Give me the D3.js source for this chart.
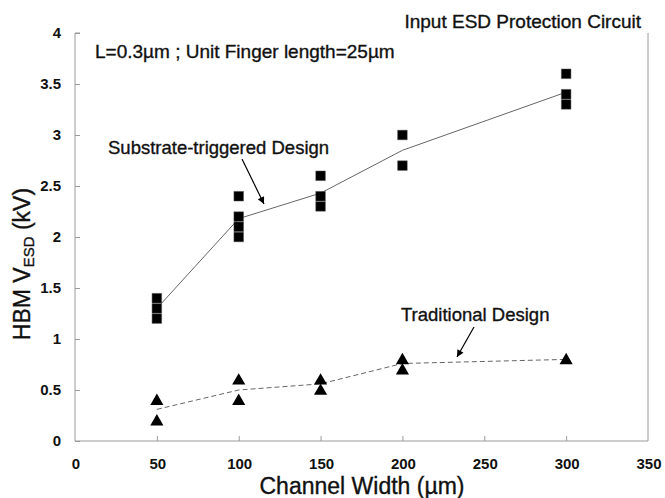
<!DOCTYPE html>
<html><head><meta charset="utf-8">
<script src="https://cdn.jsdelivr.net/npm/d3@7"></script>
<style>body{margin:0;background:#fff}svg{display:block}text{font-family:"Liberation Sans",Arial,sans-serif}</style>
</head><body>
<svg id="c" width="665" height="498"></svg>
<script>
const xTicks = [0, 50, 100, 150, 200, 250, 300, 350];
const yTicks = [0, 0.5, 1, 1.5, 2, 2.5, 3, 3.5, 4];
const yTickLabels = ["0", "0.5", "1", "1.5", "2", "2.5", "3", "3.5", "4"];

const widths = [50, 100, 150, 200, 300];
// Substrate-triggered design: measured points (x, kV)
const substrateX = [50, 50, 50, 100, 100, 100, 100, 150, 150, 150, 200, 200, 300, 300, 300];
const substrateY = [1.2, 1.3, 1.4, 2.0, 2.1, 2.2, 2.4, 2.3, 2.4, 2.6, 2.7, 3.0, 3.3, 3.4, 3.6];
const substrateLine = [1.3, 2.18, 2.43, 2.85, 3.42];
// Traditional design
const traditionalX = [50, 50, 100, 100, 150, 150, 200, 200, 300];
const traditionalY = [0.2, 0.4, 0.4, 0.6, 0.5, 0.6, 0.7, 0.8, 0.8];
const traditionalLine = [0.31, 0.5, 0.56, 0.76, 0.8];

const svg = d3.select("#c");
const L = 75, R = 648, T = 33, B = 441;
const x = d3.scaleLinear().domain([0, 350]).range([L, R]);
const y = d3.scaleLinear().domain([0, 4]).range([B, T]);
const axisCol = "#9a9a9a";
const ink = "#111";

function label(sel) { return sel.attr("fill", ink).attr("stroke", ink).attr("stroke-width", 0.35); }

// y axis (ticks inward)
const gy = svg.append("g").attr("transform", `translate(${L},0)`)
  .call(d3.axisRight(y).tickValues(yTicks).tickSize(5).tickFormat(""));
gy.selectAll("path,line").attr("stroke", axisCol);
gy.select("path").attr("d", `M5,${T}H0V${B}`);
yTicks.forEach((v, i) => {
  svg.append("text").attr("x", 61).attr("y", y(v) + 5)
    .attr("text-anchor", "end").attr("font-size", 15).attr("font-weight", "bold")
    .attr("fill", ink).text(yTickLabels[i]);
});

// x axis (ticks inward)
const gx = svg.append("g").attr("transform", `translate(0,${B})`)
  .call(d3.axisTop(x).tickValues(xTicks).tickSize(5).tickFormat(""));
gx.selectAll("path,line").attr("stroke", axisCol);
gx.select("path").attr("d", `M${L},0H${R}`);
gx.selectAll(".tick").filter(d => d === 0 || d === 350).select("line").attr("stroke", "none");
xTicks.forEach(v => {
  svg.append("text").attr("x", x(v) + 1).attr("y", 469)
    .attr("text-anchor", "middle").attr("font-size", 15).attr("font-weight", "bold")
    .attr("fill", ink).text(v);
});
// right border
svg.append("line").attr("x1", R).attr("x2", R).attr("y1", T).attr("y2", B).attr("stroke", axisCol);

// lines
const line = d3.line().x(d => x(d[0])).y(d => y(d[1]));
svg.append("path").datum(widths.map((w, i) => [w, substrateLine[i]]))
  .attr("d", line).attr("fill", "none").attr("stroke", "#666").attr("stroke-width", 1);
svg.append("path").datum(widths.map((w, i) => [w, traditionalLine[i]]))
  .attr("d", line).attr("fill", "none").attr("stroke", "#666").attr("stroke-width", 1)
  .attr("stroke-dasharray", "5,3");

// markers
const sq = d3.symbol().type(d3.symbolSquare).size(92);
svg.append("g").selectAll("path").data(substrateX.map((v, i) => [v, substrateY[i]]))
  .join("path").attr("d", sq).attr("transform", d => `translate(${x(d[0])},${y(d[1])})`)
  .attr("fill", "#000").attr("stroke", "#555").attr("stroke-width", 0.5);
const tri = d3.symbol().type(d3.symbolTriangle).size(75);
svg.append("g").selectAll("path").data(traditionalX.map((v, i) => [v, traditionalY[i]]))
  .join("path").attr("d", tri).attr("transform", d => `translate(${x(d[0])},${y(d[1]) + 1})`)
  .attr("fill", "#000");

// annotations
label(svg.append("text").attr("x", 641).attr("y", 28).attr("text-anchor", "end")
  .attr("font-size", 19)).text("Input ESD Protection Circuit");
label(svg.append("text").attr("x", 95).attr("y", 58)
  .attr("font-size", 19)).text("L=0.3µm ; Unit Finger length=25µm");
label(svg.append("text").attr("x", 108).attr("y", 154)
  .attr("font-size", 18.5)).text("Substrate-triggered Design");
label(svg.append("text").attr("x", 401).attr("y", 321)
  .attr("font-size", 18.5)).text("Traditional Design");

const defs = svg.append("defs");
defs.append("marker").attr("id", "ah").attr("viewBox", "0 0 10 10").attr("refX", 10).attr("refY", 5)
  .attr("markerWidth", 9).attr("markerHeight", 7).attr("orient", "auto").attr("markerUnits", "userSpaceOnUse")
  .append("path").attr("d", "M0,0L10,5L0,10Z").attr("fill", "#000");
svg.append("line").attr("x1", 242).attr("y1", 159).attr("x2", 264).attr("y2", 204)
  .attr("stroke", "#000").attr("stroke-width", 1.2).attr("marker-end", "url(#ah)");
svg.append("line").attr("x1", 474).attr("y1", 327).attr("x2", 457).attr("y2", 357)
  .attr("stroke", "#000").attr("stroke-width", 1.2).attr("marker-end", "url(#ah)");

// axis titles
label(svg.append("text").attr("x", 362).attr("y", 494).attr("text-anchor", "middle")
  .attr("font-size", 23)).text("Channel Width (µm)");
const yt = label(svg.append("text").attr("transform", "translate(30,264) rotate(-90)")
  .attr("text-anchor", "middle").attr("font-size", 23));
yt.append("tspan").text("HBM V");
yt.append("tspan").attr("font-size", 15).attr("dy", 4).text("ESD");
yt.append("tspan").attr("dy", -4).text(" (kV)");
</script>
</body></html>
